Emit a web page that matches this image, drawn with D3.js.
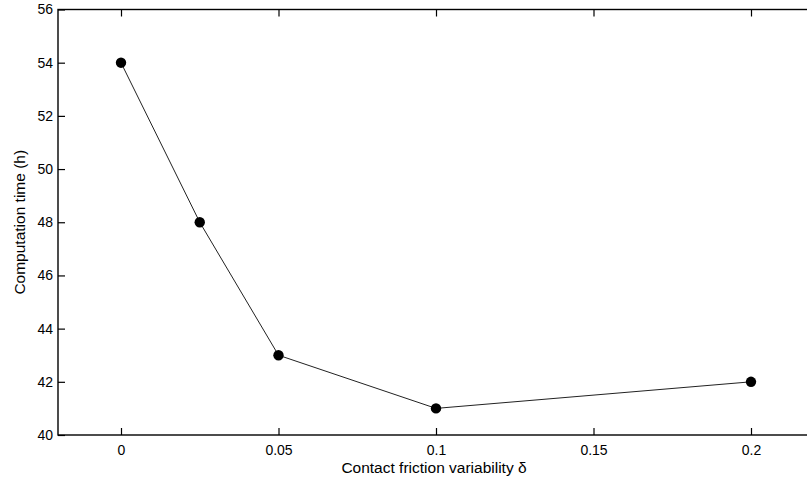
<!DOCTYPE html>
<html>
<head>
<meta charset="utf-8">
<script src="https://cdn.jsdelivr.net/npm/d3@7"></script>
<style>
html,body{margin:0;padding:0;background:#fff;}
svg{display:block;}
text{font-family:Arial,"Liberation Sans",sans-serif;fill:#000;}
</style>
</head>
<body>
<script>
const xValues = [0, 0.025, 0.05, 0.1, 0.2];
const yValues = [54, 48, 43, 41, 42];
const xTicks = [0, 0.05, 0.1, 0.15, 0.2];
const xTickLabels = ["0", "0.05", "0.1", "0.15", "0.2"];
const yTicks = [40, 42, 44, 46, 48, 50, 52, 54, 56];
const xLabel = "Contact friction variability \u03b4";
const yLabel = "Computation time (h)";

(function(){
const W = 807, H = 484;
const pL = 58, pR = 814, pT = 9.5, pB = 435;
const svg = d3.select("body").append("svg").attr("width", W).attr("height", H);

const x = d3.scaleLinear().domain([-0.02, 0.22]).range([pL, pR]);
const y = d3.scaleLinear().domain([40, 56]).range([pB, pT]);
const tl = 7;

// frame
svg.append("rect").attr("x", pL).attr("y", pT).attr("width", pR-pL).attr("height", pB-pT)
  .attr("fill", "none").attr("stroke", "#000").attr("stroke-width", 1.4);

// axes
const xb = svg.append("g").attr("transform", `translate(0,${pB})`)
  .call(d3.axisBottom(x).tickValues(xTicks).tickFormat((d,i)=>xTickLabels[i]).tickSizeInner(-tl).tickSizeOuter(0).tickPadding(10));
const xt = svg.append("g").attr("transform", `translate(0,${pT})`)
  .call(d3.axisTop(x).tickValues(xTicks).tickFormat("").tickSizeInner(-tl).tickSizeOuter(0));
const yl = svg.append("g").attr("transform", `translate(${pL},0)`)
  .call(d3.axisLeft(y).tickValues(yTicks).tickSizeInner(-tl).tickSizeOuter(0).tickPadding(5));
const yr = svg.append("g").attr("transform", `translate(${pR},0)`)
  .call(d3.axisRight(y).tickValues(yTicks).tickFormat("").tickSizeInner(-tl).tickSizeOuter(0));
[xb, xt, yl, yr].forEach(g => {
  g.select(".domain").remove();
  g.selectAll("line").attr("stroke", "#000").attr("stroke-width", 1.2);
  g.selectAll("text").attr("font-size", 14).attr("fill", "#000").style("font-family", "Arial, 'Liberation Sans', sans-serif");
});

// line
const pts = xValues.map((v,i)=>[v, yValues[i]]);
svg.append("path").datum(pts)
  .attr("d", d3.line().x(d=>x(d[0])).y(d=>y(d[1])))
  .attr("fill", "none").attr("stroke", "#222").attr("stroke-width", 1);
svg.selectAll("circle.pt").data(pts).enter().append("circle")
  .attr("cx", d=>x(d[0])).attr("cy", d=>y(d[1])).attr("r", 5.2).attr("fill", "#000");

// labels
svg.append("text").attr("x", 434).attr("y", 473).attr("text-anchor", "middle")
  .attr("font-size", 15.5).text(xLabel);
svg.append("text").attr("transform", `translate(25,${(pT+pB)/2}) rotate(-90)`)
  .attr("text-anchor", "middle").attr("font-size", 15.5).text(yLabel);
})();
</script>
</body>
</html>
